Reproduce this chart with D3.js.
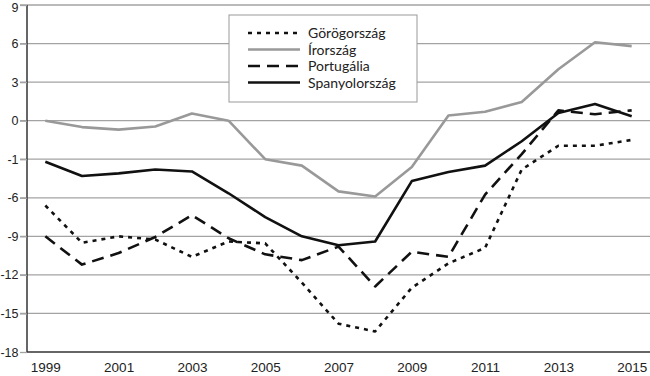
<!DOCTYPE html>
<html><head><meta charset="utf-8">
<script src="https://cdn.jsdelivr.net/npm/d3@7"></script>
<style>
html,body{margin:0;padding:0;background:#fff;}
svg{display:block;font-family:Lato,"Open Sans","Noto Sans",sans-serif;}
</style></head>
<body><svg id="c" width="650" height="376"></svg>
<script>
const years = d3.range(1999, 2016);
const xTickYears = [1999, 2001, 2003, 2005, 2007, 2009, 2011, 2013, 2015];
const yTickValues = [9, 6, 3, 0, -3, -6, -9, -12, -15, -18];
const yTickLabels = ["9", "6", "3", "0", "-1", "-6", "-9", "-12", "-15", "-18"];
const seriesNames = ["Görögország", "Írország", "Portugália", "Spanyolország"];
const greece   = [-6.6, -9.5, -9.0, -9.25, -10.6, -9.4, -9.55, -12.6, -15.8, -16.4, -13.0, -11.1, -9.9, -3.8, -1.95, -1.95, -1.5];
const ireland  = [0.0, -0.5, -0.7, -0.45, 0.55, 0.0, -3.0, -3.5, -5.5, -5.9, -3.6, 0.4, 0.7, 1.45, 4.0, 6.1, 5.8];
const portugal = [-9.0, -11.2, -10.3, -9.05, -7.35, -9.15, -10.4, -10.85, -9.8, -12.9, -10.2, -10.6, -5.75, -2.6, 0.8, 0.5, 0.8];
const spain    = [-3.2, -4.3, -4.1, -3.8, -3.95, -5.65, -7.5, -9.0, -9.7, -9.4, -4.7, -4.0, -3.5, -1.6, 0.6, 1.3, 0.35];
const seriesValues = [greece, ireland, portugal, spain];
const styles = [
  {color:"#111", width:2.6, dash:"4,5"},
  {color:"#999", width:2.6, dash:null},
  {color:"#111", width:2.6, dash:"12,7"},
  {color:"#111", width:2.6, dash:null}
];

const svg = d3.select("#c");
const L = 27, R = 650, T = 5, B = 352;
const x = d3.scalePoint().domain(years).range([L, R]).padding(0.5);
const y = d3.scaleLinear().domain([-18, 9]).range([B, T]);

// grid lines
svg.append("g").selectAll("line").data(yTickValues.filter(v => v !== -18)).enter().append("line")
  .attr("x1", L - 7).attr("x2", R).attr("y1", d => y(d)).attr("y2", d => y(d))
  .attr("stroke", "#a3a3a3").attr("stroke-width", 1.3);

// y axis
const yAxis = d3.axisLeft(y).tickValues(yTickValues)
  .tickFormat((d, i) => yTickLabels[i]).tickSize(7).tickPadding(1.5);
const ya = svg.append("g").attr("transform", `translate(${L},0)`).call(yAxis);
ya.select(".domain").attr("stroke", "#333").attr("stroke-width", 1.5).attr("d", `M0,${T}V${B}`);
ya.selectAll(".tick line").attr("stroke", "#a3a3a3").attr("stroke-width", 1.3);
ya.selectAll(".tick text").attr("font-size", 12.5).attr("fill", "#222")
  .attr("dy", d => d === 9 ? "0.5em" : "0.32em");

// x axis
const xAxis = d3.axisBottom(x).tickValues(xTickYears).tickSize(0).tickPadding(10);
const xa = svg.append("g").attr("transform", `translate(0,${B})`).call(xAxis);
xa.select(".domain").attr("stroke", "#333").attr("stroke-width", 1.5).attr("d", `M${L},0H${R}`);
xa.selectAll(".tick text").attr("font-size", 13.5).attr("fill", "#222");

// lines
const line = d3.line().x((d, i) => x(years[i])).y(d => y(d));
seriesValues.forEach((vals, k) => {
  svg.append("path").datum(vals).attr("d", line)
    .attr("fill", "none").attr("stroke", styles[k].color)
    .attr("stroke-width", styles[k].width)
    .attr("stroke-dasharray", styles[k].dash)
    .attr("stroke-linejoin", "round");
});

// legend
const lg = svg.append("g");
lg.append("rect").attr("x", 229).attr("y", 15).attr("width", 188).attr("height", 87)
  .attr("fill", "#fff").attr("stroke", "#999").attr("stroke-width", 1);
const rows = [33, 49.5, 66, 82.5];
seriesNames.forEach((name, k) => {
  lg.append("line").attr("x1", 248).attr("x2", 300).attr("y1", rows[k]).attr("y2", rows[k])
    .attr("stroke", styles[k].color).attr("stroke-width", styles[k].width)
    .attr("stroke-dasharray", styles[k].dash);
  lg.append("text").attr("x", 308).attr("y", rows[k] + 5).text(name)
    .attr("font-size", 14).attr("fill", "#222");
});
</script></body></html>
